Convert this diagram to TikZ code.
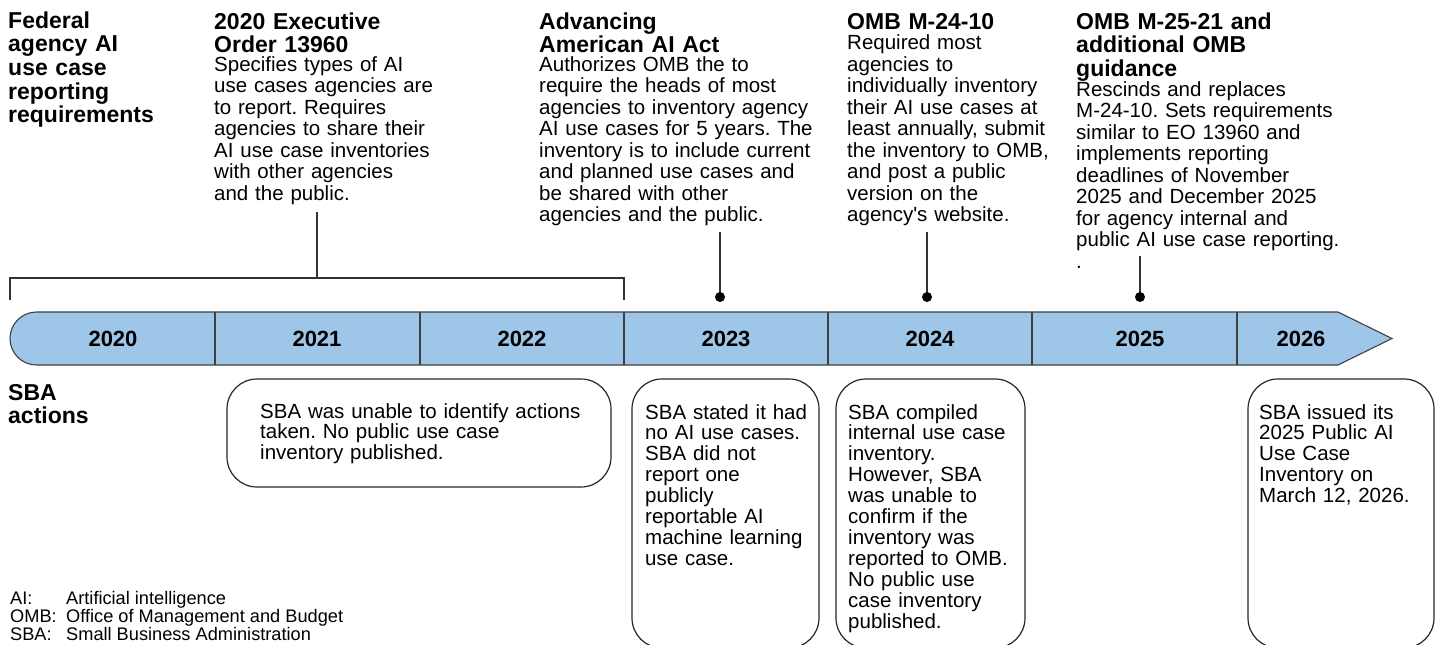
\documentclass[tikz,border=0pt]{standalone}
\usepackage{fontspec}
\setmainfont{Liberation Sans}
\frenchspacing
\begin{document}
\begin{tikzpicture}[x=1pt,y=-1pt,
  body/.style={anchor=base west, inner sep=0pt, text width=330pt, align=left,
    font=\fontsize{20.5}{21.5}\selectfont},
  boxtext/.style={body, font=\fontsize{20.5}{20.9}\selectfont},
  head/.style={anchor=base west, inner sep=0pt, text width=330pt, align=left,
    font=\fontsize{23}{23.7}\selectfont\bfseries},
  yearlabel/.style={inner sep=0pt, font=\fontsize{22}{22}\selectfont\bfseries},
  legend/.style={anchor=base west, inner sep=0pt, font=\fontsize{18.2}{18}\selectfont},
  actionbox/.style={draw=black!85, line width=1.2pt, rounded corners=30pt},
  stem/.style={draw=black!80, line width=1.3pt},
  barline/.style={draw=black!75, line width=1.1pt},
]
\definecolor{barblue}{RGB}{157,198,232}
\useasboundingbox (0,0) rectangle (1440,645);

% timeline bar with rounded tail and pointed head
\draw[barline, fill=barblue] (36.5,312) -- (1338,312) -- (1392,338.5) -- (1338,365)
  -- (36.5,365) arc[start angle=90, end angle=270, radius=26.5] -- cycle;
\foreach \xx in {215,420,624,828,1032,1237}
  \draw[barline] (\xx,312) -- (\xx,365);

\node[yearlabel] (y20) at (113,339) {2020};
\node[yearlabel] (y21) at (317,339) {2021};
\node[yearlabel] (y22) at (522,339) {2022};
\node[yearlabel] (y23) at (726,339) {2023};
\node[yearlabel] (y24) at (930,339) {2024};
\node[yearlabel] (y25) at (1140,339) {2025};
\node[yearlabel] (y26) at (1301,339) {2026};

% row titles
\node[head] (fedtitle) at (8,28) {Federal\\agency AI\\use case\\reporting\\requirements};
\node[head] (sbatitle) at (8,400) {SBA\\actions};

% requirements above the bar
\node[head] (eohead) at (214,29) {2020 Executive\\Order 13960};
\node[body] (eobody) at (214,71) {Specifies types of AI\\use cases agencies are\\to report. Requires\\agencies to share their\\AI use case inventories\\with other agencies\\and the public.};

\node[head] (acthead) at (539,29) {Advancing\\American AI Act};
\node[body] (actbody) at (539,71) {Authorizes OMB the to\\require the heads of most\\agencies to inventory agency\\AI use cases for 5 years. The\\inventory is to include current\\and planned use cases and\\be shared with other\\agencies and the public.};

\node[head] (m24head) at (847,29) {OMB M-24-10};
\node[body] (m24body) at (847,49.5) {Required most\\agencies to\\individually inventory\\their AI use cases at\\least annually, submit\\the inventory to OMB,\\and post a public\\version on the\\agency\textquotesingle s website.};

\node[head] (m25head) at (1076,29) {OMB M-25-21 and\\additional OMB\\guidance};
\node[body] (m25body) at (1076,96) {Rescinds and replaces\\M-24-10. Sets requirements\\similar to EO 13960 and\\implements reporting\\deadlines of November\\2025 and December 2025\\for agency internal and\\public AI use case reporting.\\.};

% bracket spanning 2020--2022
\coordinate (brL) at (10,300);
\coordinate (brR) at (624,300);
\coordinate (brtop) at (317,212);
\coordinate (brmid) at (317,278);
\draw[stem] (brL) |- (brmid) -| (brR);
\draw[stem] (brtop) -- (brmid);

% stems with dots
\coordinate (s23) at (720,232); \coordinate (d23) at (720,297);
\coordinate (s24) at (927,232); \coordinate (d24) at (927,297);
\coordinate (s25) at (1140,256); \coordinate (d25) at (1140,297);
\foreach \a/\b in {s23/d23,s24/d24,s25/d25}{
  \draw[stem] (\a) -- (\b);
  \fill (\b) circle[radius=5];
}

% SBA action boxes
\draw[actionbox] (227,379) rectangle (611,487);
\draw[actionbox] (632,379) rectangle (819,648);
\draw[actionbox] (836,379) rectangle (1025,648);
\draw[actionbox] (1248,379) rectangle (1434,648);

\node[boxtext] (a21) at (260,418) {SBA was unable to identify actions\\taken. No public use case\\inventory published.};
\node[boxtext] (a23) at (645,419) {SBA stated it had\\no AI use cases.\\SBA did not\\report one\\publicly\\reportable AI\\machine learning\\use case.};
\node[boxtext] (a24) at (848,419) {SBA compiled\\internal use case\\inventory.\\However, SBA\\was unable to\\confirm if the\\inventory was\\reported to OMB.\\No public use\\case inventory\\published.};
\node[boxtext] (a26) at (1259,419) {SBA issued its\\2025 Public AI\\Use Case\\Inventory on\\March 12, 2026.};

% abbreviations
\node[legend] (ab1) at (10,604) {AI:};
\node[legend] (ab2) at (10,622) {OMB:};
\node[legend] (ab3) at (10,640) {SBA:};
\node[legend] (df1) at (66,604) {Artificial intelligence};
\node[legend] (df2) at (66,622) {Office of Management and Budget};
\node[legend] (df3) at (66,640) {Small Business Administration};
\end{tikzpicture}
\end{document}
